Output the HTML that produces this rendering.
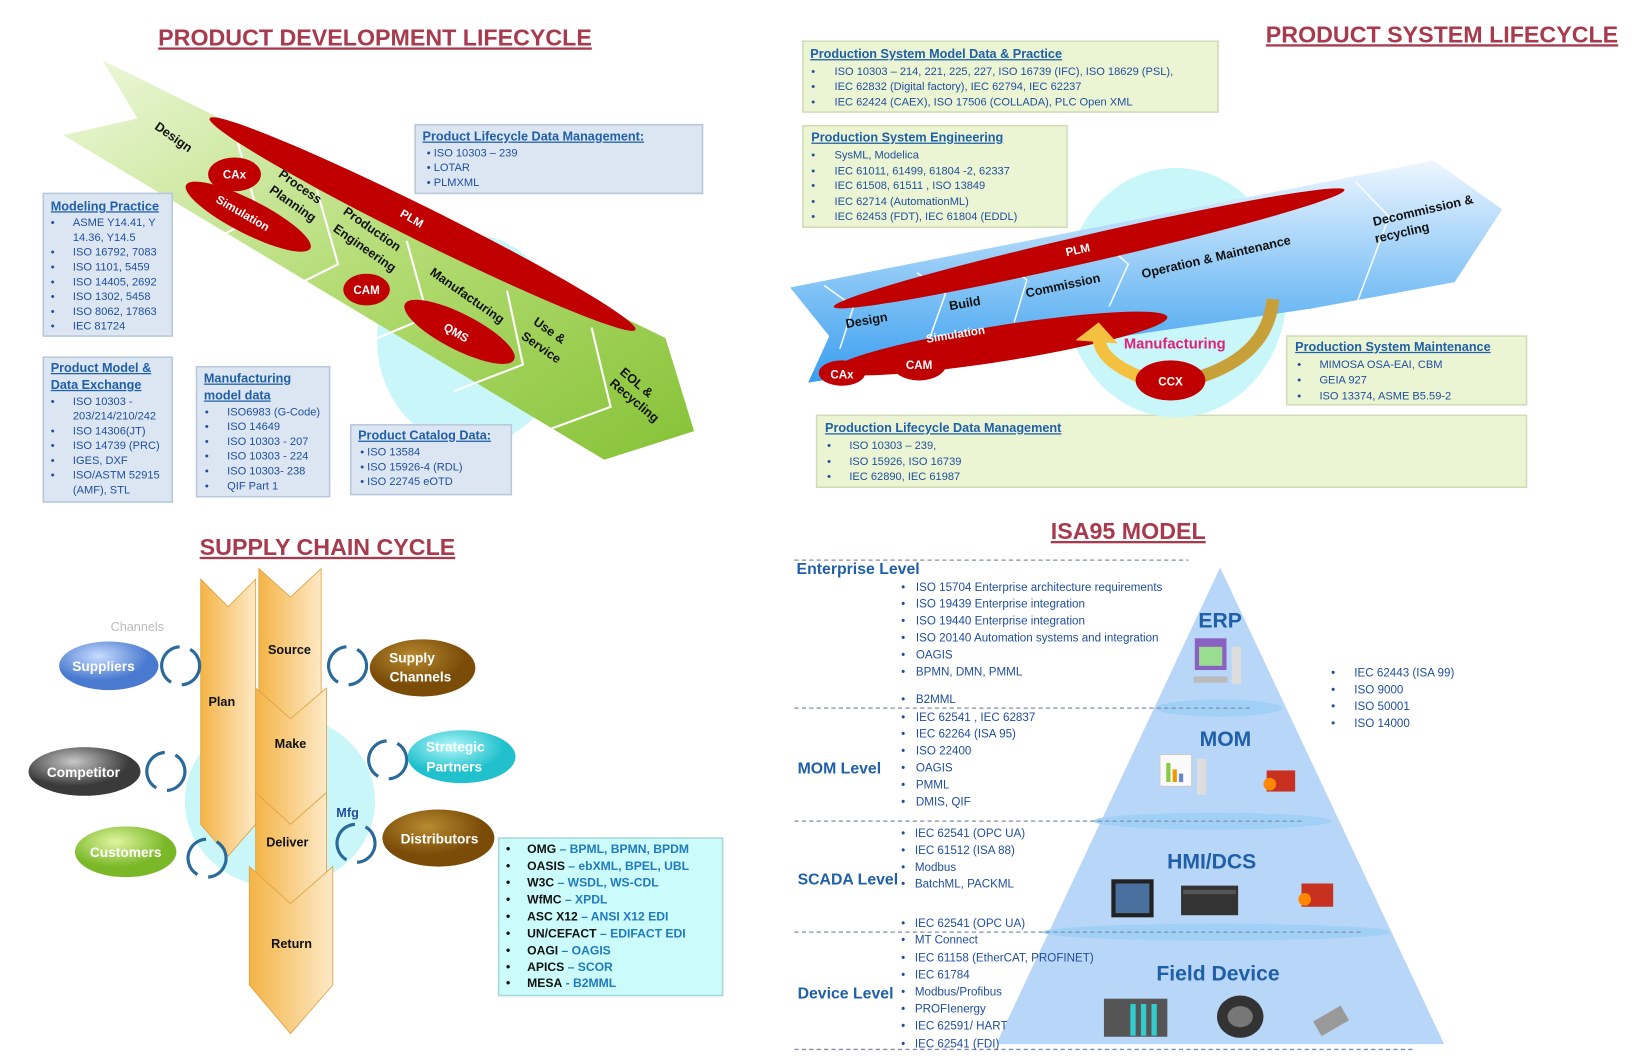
<!DOCTYPE html>
<html><head><meta charset="utf-8"><style>
html,body{margin:0;padding:0;background:#fff;}
svg{display:block;}
text{font-family:"Liberation Sans",sans-serif;}
.t{font-weight:bold;fill:#a83a4e;font-size:22px;text-decoration:underline;}
.h{fill:#1f5fa8;font-size:12px;font-weight:bold;text-decoration:underline;}
.i{fill:#1f4e9c;font-size:10.5px;}
.w{fill:#fff;font-size:11px;font-weight:bold;}
.k{fill:#111;font-size:12px;font-weight:bold;}
.lv{fill:#1f5fa8;font-size:15px;font-weight:bold;}
.pl{fill:#1f5fa8;font-size:20px;font-weight:bold;}
.b{fill:#1f4e9c;font-size:11px;}
.s{fill:#111;font-size:11.5px;font-weight:bold;}
.sb{fill:#1f7ac0;font-size:11.5px;font-weight:bold;}
</style></head><body>
<svg width="1648" height="1060" viewBox="0 0 1560 1003" preserveAspectRatio="none" xmlns="http://www.w3.org/2000/svg">
<defs>
<linearGradient id="gG" x1="0" y1="0" x2="1" y2="1"><stop offset="0" stop-color="#eef8dc"/><stop offset="0.5" stop-color="#b4dc74"/><stop offset="1" stop-color="#86c236"/></linearGradient>
<linearGradient id="gB" x1="0" y1="0" x2="0" y2="1"><stop offset="0" stop-color="#eef6ff"/><stop offset="0.6" stop-color="#7cc0f5"/><stop offset="1" stop-color="#3a9ef0"/></linearGradient>
<linearGradient id="gO" x1="0" y1="0" x2="1" y2="0"><stop offset="0" stop-color="#f4b446"/><stop offset="1" stop-color="#fde9c6"/></linearGradient>
<radialGradient id="rB" cx="0.4" cy="0.3"><stop offset="0" stop-color="#c8dcff"/><stop offset="1" stop-color="#4a7ad0"/></radialGradient>
<radialGradient id="rK" cx="0.4" cy="0.3"><stop offset="0" stop-color="#c8c8c8"/><stop offset="1" stop-color="#3a3a3a"/></radialGradient>
<radialGradient id="rG" cx="0.4" cy="0.3"><stop offset="0" stop-color="#e0f5a0"/><stop offset="1" stop-color="#7ab828"/></radialGradient>
<radialGradient id="rN" cx="0.4" cy="0.3"><stop offset="0" stop-color="#b88a30"/><stop offset="1" stop-color="#7a4c08"/></radialGradient>
<radialGradient id="rC" cx="0.4" cy="0.3"><stop offset="0" stop-color="#b0f8fa"/><stop offset="1" stop-color="#20c0cc"/></radialGradient>
</defs>

<text x="355" y="43" class="t" text-anchor="middle">PRODUCT DEVELOPMENT LIFECYCLE</text>
<text x="1365" y="40" class="t" text-anchor="middle">PRODUCT SYSTEM LIFECYCLE</text>
<text x="310" y="525" class="t" text-anchor="middle">SUPPLY CHAIN CYCLE</text>
<text x="1068" y="510" class="t" text-anchor="middle">ISA95 MODEL</text>

<ellipse cx="445" cy="322" rx="88" ry="100" fill="#c9f6f8"/>
<polygon points="97,57 630,320 657,408 572,435 60,128 130,112" fill="url(#gG)"/>
<g stroke="#fff" stroke-width="2" fill="none">
<path d="M225,135 L245,205 L185,235"/><path d="M300,180 L320,250 L260,280"/><path d="M385,228 L405,300 L345,325"/><path d="M480,275 L495,345 L430,370"/><path d="M560,310 L578,385 L510,410"/>
</g>
<ellipse cx="400" cy="212" rx="225" ry="16" transform="rotate(26.4 400 212)" fill="#c00000"/>
<ellipse cx="235" cy="205" rx="66" ry="16" transform="rotate(27 235 205)" fill="#c00000"/>
<ellipse cx="435" cy="314" rx="58" ry="17" transform="rotate(27 435 314)" fill="#c00000"/>
<ellipse cx="222" cy="165" rx="25" ry="16" fill="#c00000"/>
<ellipse cx="347" cy="274" rx="22" ry="15" fill="#c00000"/>
<text x="222" y="169" class="w" text-anchor="middle">CAx</text>
<text x="347" y="278" class="w" text-anchor="middle">CAM</text>
<text x="228" y="205" class="w" text-anchor="middle" transform="rotate(30 228 205)">Simulation</text>
<text x="430" y="318" class="w" text-anchor="middle" transform="rotate(30 430 318)">QMS</text>
<text x="388" y="210" class="w" text-anchor="middle" transform="rotate(30 388 210)">PLM</text>
<g>
<text x="162" y="133" text-anchor="middle" transform="rotate(35 162 133)" class="k">Design</text>
<text x="282" y="180" text-anchor="middle" transform="rotate(35 282 180)" class="k">Process</text>
<text x="275" y="196" text-anchor="middle" transform="rotate(35 275 196)" class="k">Planning</text>
<text x="350" y="220" text-anchor="middle" transform="rotate(35 350 220)" class="k">Production</text>
<text x="343" y="238" text-anchor="middle" transform="rotate(35 343 238)" class="k">Engineering</text>
<text x="440" y="283" text-anchor="middle" transform="rotate(35 440 283)" class="k">Manufacturing</text>
<text x="518" y="316" text-anchor="middle" transform="rotate(35 518 316)" class="k">Use &amp;</text>
<text x="510" y="332" text-anchor="middle" transform="rotate(35 510 332)" class="k">Service</text>
<text x="600" y="365" text-anchor="middle" transform="rotate(40 600 365)" class="k">EOL &amp;</text>
<text x="598" y="382" text-anchor="middle" transform="rotate(40 598 382)" class="k">Recycling</text>
</g>

<g fill="#dce6f2" stroke="#b8c8dc" stroke-width="1.5">
<rect x="393" y="118" width="272" height="65"/>
<rect x="41" y="183" width="122" height="135"/>
<rect x="41" y="338" width="122" height="137"/>
<rect x="186" y="347" width="126" height="123"/>
<rect x="332" y="402" width="152" height="66"/>
</g>
<text x="400" y="133" class="h">Product Lifecycle Data Management:</text>
<g class="i"><text x="404" y="148">•  ISO 10303 – 239</text><text x="404" y="162">•  LOTAR</text><text x="404" y="176">•  PLMXML</text></g>
<text x="48" y="199" class="h">Modeling Practice</text>
<g class="i"><text x="48" y="214">•</text><text x="69" y="214">ASME Y14.41, Y</text><text x="69" y="228">14.36, Y14.5</text>
<text x="48" y="242">•</text><text x="69" y="242">ISO 16792, 7083</text><text x="48" y="256">•</text><text x="69" y="256">ISO 1101, 5459</text>
<text x="48" y="270">•</text><text x="69" y="270">ISO 14405, 2692</text><text x="48" y="284">•</text><text x="69" y="284">ISO 1302, 5458</text>
<text x="48" y="298">•</text><text x="69" y="298">ISO 8062, 17863</text><text x="48" y="312">•</text><text x="69" y="312">IEC 81724</text></g>
<text x="48" y="352" class="h">Product Model &amp;</text><text x="48" y="368" class="h">Data Exchange</text>
<g class="i"><text x="48" y="383">•</text><text x="69" y="383">ISO 10303 -</text><text x="69" y="397">203/214/210/242</text>
<text x="48" y="411">•</text><text x="69" y="411">ISO 14306(JT)</text><text x="48" y="425">•</text><text x="69" y="425">ISO 14739 (PRC)</text>
<text x="48" y="439">•</text><text x="69" y="439">IGES, DXF</text><text x="48" y="453">•</text><text x="69" y="453">ISO/ASTM 52915</text><text x="69" y="467">(AMF), STL</text></g>
<text x="193" y="362" class="h">Manufacturing</text><text x="193" y="378" class="h">model data</text>
<g class="i"><text x="194" y="393">•</text><text x="215" y="393">ISO6983 (G-Code)</text><text x="194" y="407">•</text><text x="215" y="407">ISO 14649</text>
<text x="194" y="421">•</text><text x="215" y="421">ISO 10303 - 207</text><text x="194" y="435">•</text><text x="215" y="435">ISO 10303 - 224</text>
<text x="194" y="449">•</text><text x="215" y="449">ISO 10303- 238</text><text x="194" y="463">•</text><text x="215" y="463">QIF Part 1</text></g>
<text x="339" y="416" class="h">Product Catalog Data:</text>
<g class="i"><text x="341" y="431">•  ISO 13584</text><text x="341" y="445">•  ISO 15926-4 (RDL)</text><text x="341" y="459">•  ISO 22745 eOTD</text></g>

<g fill="#ebf5d3" stroke="#d0dcb8" stroke-width="1.5">
<rect x="760" y="39" width="393" height="67"/>
<rect x="760" y="119" width="250" height="96"/>
<rect x="1218" y="318" width="227" height="65"/>
<rect x="773" y="393" width="672" height="68"/>
</g>
<text x="767" y="55" class="h">Production System Model Data &amp; Practice</text>
<g class="i"><text x="768" y="71">•</text><text x="790" y="71">ISO 10303 – 214, 221, 225, 227, ISO 16739 (IFC), ISO 18629 (PSL),</text>
<text x="768" y="85">•</text><text x="790" y="85">IEC 62832 (Digital factory), IEC 62794, IEC 62237</text>
<text x="768" y="100">•</text><text x="790" y="100">IEC 62424 (CAEX), ISO 17506 (COLLADA), PLC Open XML</text></g>
<text x="768" y="134" class="h">Production System Engineering</text>
<g class="i"><text x="768" y="150">•</text><text x="790" y="150">SysML, Modelica</text><text x="768" y="165">•</text><text x="790" y="165">IEC 61011, 61499, 61804 -2, 62337</text>
<text x="768" y="179">•</text><text x="790" y="179">IEC 61508, 61511 , ISO 13849</text><text x="768" y="194">•</text><text x="790" y="194">IEC 62714 (AutomationML)</text>
<text x="768" y="208">•</text><text x="790" y="208">IEC 62453 (FDT), IEC 61804 (EDDL)</text></g>

<ellipse cx="1113" cy="277" rx="105" ry="118" fill="#c9f6f8"/>
<polygon points="748,272 1357,152 1422,198 1377,267 1241,292 765,362 785,318" fill="url(#gB)"/>
<g stroke="#ffffff" stroke-width="1.5" fill="none" opacity="0.9">
<path d="M780,270 L808,290 L795,330"/><path d="M868,258 L895,278 L880,320"/><path d="M945,243 L972,265 L960,305"/><path d="M1040,225 L1068,250 L1050,290"/><path d="M1283,172 L1315,205 L1285,285"/>
</g>
<ellipse cx="1031" cy="235" rx="248" ry="13" transform="rotate(-12.9 1031 235)" fill="#c00000"/>
<ellipse cx="947" cy="325" rx="160" ry="17" transform="rotate(-9 947 325)" fill="#c00000"/>
<path d="M1095,362 Q1040,345 1040,318" stroke="#f4c040" stroke-width="12" fill="none"/>
<polygon points="1018,322 1040,305 1058,325" fill="#f4c040"/>
<path d="M1125,360 Q1200,340 1205,283" stroke="#c8a03a" stroke-width="12" fill="none"/>
<ellipse cx="797" cy="353" rx="22" ry="12" fill="#c00000"/>
<ellipse cx="870" cy="344" rx="26" ry="16" fill="#c00000"/>
<ellipse cx="1108" cy="360" rx="33" ry="19" fill="#c00000"/>
<text x="797" y="358" class="w" text-anchor="middle" font-size="12">CAx</text>
<text x="870" y="349" class="w" text-anchor="middle" font-size="12">CAM</text>
<text x="1108" y="365" class="w" text-anchor="middle" font-size="12">CCX</text>
<text x="1112" y="330" text-anchor="middle" font-size="14" font-weight="bold" fill="#e0207a">Manufacturing</text>
<text x="905" y="320" class="w" text-anchor="middle" font-size="12" transform="rotate(-9 905 320)">Simulation</text>
<text x="1021" y="240" class="w" text-anchor="middle" font-size="12" transform="rotate(-12 1021 240)">PLM</text>
<g>
<text x="821" y="307" class="k" text-anchor="middle" transform="rotate(-10 821 307)">Design</text>
<text x="914" y="291" class="k" text-anchor="middle" transform="rotate(-10 914 291)">Build</text>
<text x="1007" y="274" class="k" text-anchor="middle" transform="rotate(-12 1007 274)">Commission</text>
<text x="1152" y="247" class="k" text-anchor="middle" transform="rotate(-13 1152 247)">Operation &amp; Maintenance</text>
<text x="1348" y="203" class="k" text-anchor="middle" transform="rotate(-13 1348 203)">Decommission &amp;</text>
<text x="1328" y="224" class="k" text-anchor="middle" transform="rotate(-13 1328 224)">recycling</text>
</g>
<text x="1226" y="332" class="h">Production System Maintenance</text>
<g class="i"><text x="1228" y="348">•</text><text x="1249" y="348">MIMOSA OSA-EAI, CBM</text><text x="1228" y="363">•</text><text x="1249" y="363">GEIA 927</text>
<text x="1228" y="378">•</text><text x="1249" y="378">ISO 13374, ASME B5.59-2</text></g>
<text x="781" y="409" class="h">Production Lifecycle Data Management</text>
<g class="i"><text x="783" y="425">•</text><text x="804" y="425">ISO 10303 – 239,</text><text x="783" y="440">•</text><text x="804" y="440">ISO 15926, ISO 16739</text>
<text x="783" y="454">•</text><text x="804" y="454">IEC 62890, IEC 61987</text></g>

<ellipse cx="265" cy="758" rx="90" ry="82" fill="#c9f6f8"/>
<polygon points="190,548 216,574 242,548 242,780 216,810 190,780" fill="url(#gO)" stroke="#e0a040" stroke-width="0.8"/>
<polygon points="245,538 275,565 304,538 304,660 275,685 245,660" fill="url(#gO)" stroke="#e0a040" stroke-width="0.8"/>
<polygon points="242,651 275,680 309,651 309,760 275,783 242,760" fill="url(#gO)" stroke="#e0a040" stroke-width="0.8"/>
<polygon points="242,750 275,780 309,750 309,835 275,860 242,835" fill="url(#gO)" stroke="#e0a040" stroke-width="0.8"/>
<polygon points="236,820 275,855 315,820 315,932 275,978 236,932" fill="url(#gO)" stroke="#e0a040" stroke-width="0.8"/>
<text x="210" y="668" class="k" text-anchor="middle">Plan</text>
<text x="274" y="619" class="k" text-anchor="middle">Source</text>
<text x="275" y="708" class="k" text-anchor="middle">Make</text>
<text x="272" y="801" class="k" text-anchor="middle">Deliver</text>
<text x="276" y="897" class="k" text-anchor="middle">Return</text>
<text x="329" y="773" text-anchor="middle" font-size="12" font-weight="bold" fill="#1f4e9c">Mfg</text>
<text x="130" y="597" text-anchor="middle" font-size="12" fill="#bbb">Channels</text>
<g fill="none" stroke="#2a6a9a" stroke-width="3" stroke-dasharray="46,10.5">
<circle cx="171" cy="630" r="18" transform="rotate(-60 171 630)"/><circle cx="157" cy="730" r="18" transform="rotate(-60 157 730)"/><circle cx="196" cy="812" r="18" transform="rotate(-60 196 812)"/>
<circle cx="329" cy="630" r="18" transform="rotate(120 329 630)"/><circle cx="367" cy="719" r="18" transform="rotate(120 367 719)"/><circle cx="337" cy="798" r="18" transform="rotate(120 337 798)"/>
</g>
<ellipse cx="103" cy="630" rx="47" ry="23" fill="url(#rB)"/>
<ellipse cx="80" cy="730" rx="53" ry="23" fill="url(#rK)"/>
<ellipse cx="119" cy="806" rx="48" ry="24" fill="url(#rG)"/>
<ellipse cx="400" cy="632" rx="50" ry="27" fill="url(#rN)"/>
<ellipse cx="437" cy="716" rx="51" ry="25" fill="url(#rC)"/>
<ellipse cx="415" cy="793" rx="53" ry="27" fill="url(#rN)"/>
<g fill="#fff" font-size="13" font-weight="bold" text-anchor="middle">
<text x="98" y="635">Suppliers</text><text x="79" y="735">Competitor</text><text x="119" y="811">Customers</text>
<text x="390" y="627">Supply</text><text x="398" y="645">Channels</text>
<text x="431" y="711">Strategic</text><text x="430" y="730">Partners</text><text x="416" y="798">Distributors</text>
</g>
<rect x="472" y="793" width="212" height="149" fill="#ccfbfc" stroke="#a8d8dc" stroke-width="1.5"/>
<g>
<text x="479" y="807" class="s">•</text><text x="499" y="807"><tspan class="s">OMG</tspan><tspan class="sb"> – BPML, BPMN, BPDM</tspan></text>
<text x="479" y="823" class="s">•</text><text x="499" y="823"><tspan class="s">OASIS</tspan><tspan class="sb"> – ebXML, BPEL, UBL</tspan></text>
<text x="479" y="839" class="s">•</text><text x="499" y="839"><tspan class="s">W3C</tspan><tspan class="sb"> – WSDL,  WS-CDL</tspan></text>
<text x="479" y="855" class="s">•</text><text x="499" y="855"><tspan class="s">WfMC</tspan><tspan class="sb"> – XPDL</tspan></text>
<text x="479" y="871" class="s">•</text><text x="499" y="871"><tspan class="s">ASC X12</tspan><tspan class="sb"> – ANSI X12 EDI</tspan></text>
<text x="479" y="887" class="s">•</text><text x="499" y="887"><tspan class="s">UN/CEFACT</tspan><tspan class="sb"> – EDIFACT EDI</tspan></text>
<text x="479" y="903" class="s">•</text><text x="499" y="903"><tspan class="s">OAGI</tspan><tspan class="sb"> – OAGIS</tspan></text>
<text x="479" y="919" class="s">•</text><text x="499" y="919"><tspan class="s">APICS</tspan><tspan class="sb"> – SCOR</tspan></text>
<text x="479" y="934" class="s">•</text><text x="499" y="934"><tspan class="s">MESA</tspan><tspan class="sb"> - B2MML</tspan></text>
</g>

<polygon points="1155,537 943,988 1367,988" fill="#b8d6f8"/>
<g fill="#a0d0f6"><ellipse cx="1154" cy="670" rx="60" ry="8"/><ellipse cx="1148" cy="777" rx="113" ry="8"/><ellipse cx="1152" cy="882" rx="165" ry="8"/></g>
<g stroke="#8090a8" stroke-width="1.2" stroke-dasharray="4,3">
<line x1="752" y1="530" x2="1125" y2="530"/><line x1="752" y1="670" x2="1185" y2="670"/>
<line x1="752" y1="777" x2="1235" y2="777"/><line x1="752" y1="882" x2="1290" y2="882"/><line x1="752" y1="993" x2="1337" y2="993"/>
</g>
<text x="754" y="543" class="lv">Enterprise Level</text>
<text x="755" y="732" class="lv">MOM Level</text>
<text x="755" y="837" class="lv">SCADA Level</text>
<text x="755" y="945" class="lv">Device Level</text>
<text x="1155" y="594" class="pl" text-anchor="middle">ERP</text>
<text x="1160" y="706" class="pl" text-anchor="middle">MOM</text>
<text x="1147" y="822" class="pl" text-anchor="middle">HMI/DCS</text>
<text x="1153" y="928" class="pl" text-anchor="middle">Field Device</text>
<rect x="1131" y="604" width="30" height="30" fill="#8a60c0"/><rect x="1135" y="612" width="22" height="18" fill="#9adc90"/><rect x="1166" y="612" width="9" height="35" fill="#ddd"/><rect x="1130" y="640" width="32" height="6" fill="#bbb"/>
<rect x="1098" y="714" width="30" height="30" fill="#fafafa" stroke="#ccc"/><rect x="1104" y="722" width="4" height="18" fill="#8c4"/><rect x="1110" y="728" width="4" height="12" fill="#e90"/><rect x="1116" y="732" width="4" height="8" fill="#68c"/><rect x="1133" y="718" width="9" height="34" fill="#ddd"/>
<rect x="1199" y="729" width="27" height="20" fill="#c83020"/><circle cx="1202" cy="742" r="6" fill="#f80"/>
<rect x="1232" y="836" width="30" height="22" fill="#c83020"/><circle cx="1235" cy="851" r="6" fill="#f80"/>
<rect x="1052" y="832" width="40" height="36" fill="#222"/><rect x="1056" y="836" width="32" height="28" fill="#4a70a0"/>
<rect x="1118" y="838" width="54" height="28" fill="#333"/><rect x="1120" y="842" width="50" height="4" fill="#555"/>
<rect x="1045" y="945" width="60" height="36" fill="#555"/><g fill="#3cc"><rect x="1070" y="950" width="5" height="30"/><rect x="1080" y="950" width="5" height="30"/><rect x="1090" y="950" width="5" height="30"/></g>
<ellipse cx="1174" cy="962" rx="22" ry="20" fill="#333"/><ellipse cx="1174" cy="962" rx="12" ry="10" fill="#777"/>
<rect x="1245" y="958" width="30" height="16" fill="#999" transform="rotate(-30 1260 966)"/>
<g class="b">
<text x="853" y="559">•</text><text x="867" y="559">ISO 15704 Enterprise architecture requirements</text>
<text x="853" y="575">•</text><text x="867" y="575">ISO 19439 Enterprise integration</text>
<text x="853" y="591">•</text><text x="867" y="591">ISO 19440  Enterprise integration</text>
<text x="853" y="607">•</text><text x="867" y="607">ISO 20140  Automation systems and integration</text>
<text x="853" y="623">•</text><text x="867" y="623">OAGIS</text>
<text x="853" y="639">•</text><text x="867" y="639">BPMN, DMN, PMML</text>
<text x="853" y="665">•</text><text x="867" y="665">B2MML</text>
<text x="853" y="682">•</text><text x="867" y="682">IEC 62541 , IEC 62837</text>
<text x="853" y="698">•</text><text x="867" y="698">IEC 62264 (ISA 95)</text>
<text x="853" y="714">•</text><text x="867" y="714">ISO 22400</text>
<text x="853" y="730">•</text><text x="867" y="730">OAGIS</text>
<text x="853" y="746">•</text><text x="867" y="746">PMML</text>
<text x="853" y="762">•</text><text x="867" y="762">DMIS, QIF</text>
<text x="853" y="792">•</text><text x="866" y="792">IEC 62541 (OPC UA)</text>
<text x="853" y="808">•</text><text x="866" y="808">IEC 61512 (ISA 88)</text>
<text x="853" y="824">•</text><text x="866" y="824">Modbus</text>
<text x="853" y="840">•</text><text x="866" y="840">BatchML, PACKML</text>
<text x="853" y="877">•</text><text x="866" y="877">IEC 62541 (OPC UA)</text>
<text x="853" y="893">•</text><text x="866" y="893">MT Connect</text>
<text x="853" y="910">•</text><text x="866" y="910">IEC 61158 (EtherCAT, PROFINET)</text>
<text x="853" y="926">•</text><text x="866" y="926">IEC 61784</text>
<text x="853" y="942">•</text><text x="866" y="942">Modbus/Profibus</text>
<text x="853" y="958">•</text><text x="866" y="958">PROFIenergy</text>
<text x="853" y="974">•</text><text x="866" y="974">IEC 62591/ HART</text>
<text x="853" y="991">•</text><text x="866" y="991">IEC 62541 (FDI)</text>
<text x="1260" y="640">•</text><text x="1282" y="640">IEC 62443 (ISA 99)</text>
<text x="1260" y="656">•</text><text x="1282" y="656">ISO 9000</text>
<text x="1260" y="672">•</text><text x="1282" y="672">ISO 50001</text>
<text x="1260" y="688">•</text><text x="1282" y="688">ISO 14000</text>
</g>
</svg>
</body></html>
